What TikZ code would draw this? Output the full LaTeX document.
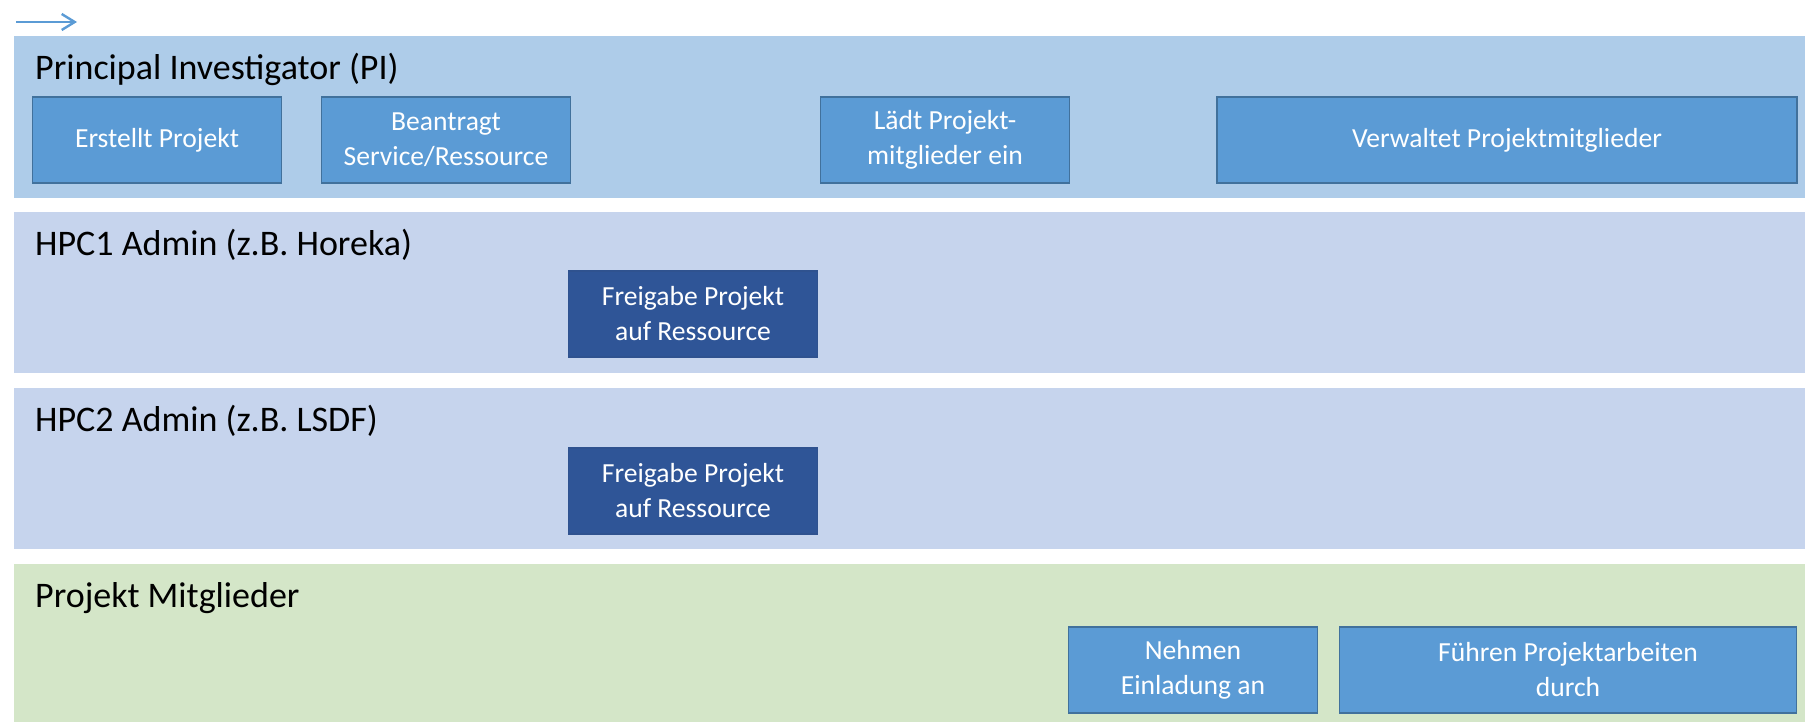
\documentclass[tikz,border=0pt]{standalone}
\usepackage{fontspec}
\setmainfont{Carlito}
\usetikzlibrary{arrows.meta}

\definecolor{laneblue}{HTML}{AECCE9}
\definecolor{lanegrey}{HTML}{C6D4ED}
\definecolor{lanegreen}{HTML}{D4E6C8}
\definecolor{boxblue}{HTML}{5B9BD5}
\definecolor{boxline}{HTML}{41719C}
\definecolor{boxdark}{HTML}{2F5597}
\definecolor{darkline}{HTML}{2F528F}

\tikzset{
  lanetitle/.style={anchor=base west, inner sep=0pt, font=\fontsize{36}{42}\selectfont},
  task/.style={draw=boxline, line width=1.3pt, fill=boxblue, text=white, align=center,
    minimum width=249pt, minimum height=86pt, inner sep=0pt, font=\fontsize{27.6}{35}\selectfont},
  approval/.style={task, fill=boxdark, draw=darkline},
}

\begin{document}
\begin{tikzpicture}[x=1pt,y=-1pt]
                      \useasboundingbox (0,0) rectangle (1805,722);
                      \foreach \top/\bot/\col in {36/198/laneblue,212/373/lanegrey,388/549/lanegrey,564/722/lanegreen}
                      \fill[\col] (14,\top) rectangle (1805,\bot);
                      \coordinate (start) at (16,22);
                      \coordinate (ende) at (77,22);
                      \draw[boxblue, line width=2.4pt, -{Straight Barb[length=13pt,width=16pt]}] (start) -- (ende);
                      \node[lanetitle] (pi) at (35,80) {Principal Investigator (PI)};
                      \node[lanetitle] (hpcone) at (35,255) {HPC1 Admin (z.B. Horeka)};
                      \node[lanetitle] (hpctwo) at (35,431) {HPC2 Admin (z.B. LSDF)};
                      \node[lanetitle] (mitglieder) at (35,607) {Projekt Mitglieder};
                      \node[task] (erstellt) at (157,140) {Erstellt Projekt};
                      \node[task] (beantragt) at (446,140) {Beantragt\\Service/Ressource};
                      \node[task] (einladen) at (945,140) {Lädt Projekt-\\mitglieder ein};
                      \node[task, minimum width=580pt] (verwaltet) at (1507,140) {Verwaltet Projektmitglieder};
                      \node[approval] (freigabeone) at (693,314) {Freigabe Projekt\\auf Ressource};
                      \node[approval] (freigabetwo) at (693,491) {Freigabe Projekt\\auf Ressource};
                      \node[task] (annehmen) at (1193,670) {Nehmen\\Einladung an};
                      \node[task, minimum width=457pt] (arbeiten) at (1568,670) {Führen Projektarbeiten\\durch};
                  \end{tikzpicture}
\end{document}
